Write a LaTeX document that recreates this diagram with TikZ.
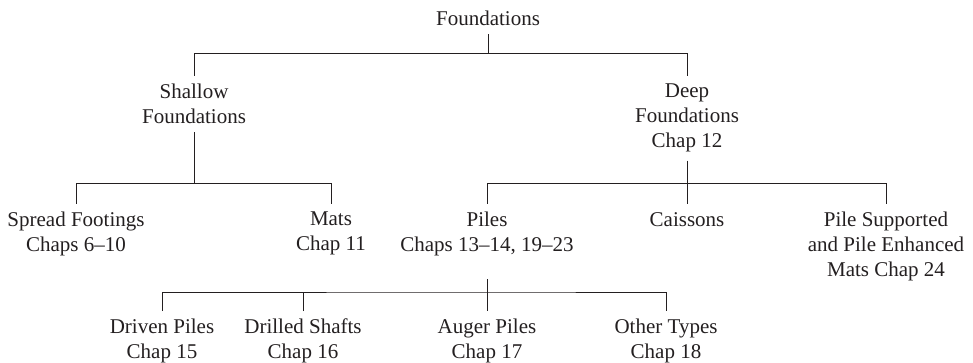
\documentclass[tikz,border=0pt]{standalone}
\usepackage{fontspec}
\setmainfont{Liberation Serif}
\usepackage{xcolor}
\usetikzlibrary{positioning,calc}
\definecolor{treeink}{HTML}{231F20}
\tikzset{
  catnode/.style={anchor=north, align=center, inner xsep=2pt, inner ysep=8pt, text=treeink, font=\fontsize{21}{25}\selectfont},
  link/.style={draw=treeink, line width=0.9pt}
}
\begin{document}
\begin{tikzpicture}[x=1pt, y=-1pt]
  \useasboundingbox (0,0) rectangle (973,363);
  % level 0 and 1
  \node[catnode] (root) at (488,3) {Foundations};
  \node[catnode] (shallow) at (194,76) {Shallow\\Foundations};
  \node[catnode] (deep) at (687,76) {Deep\\Foundations\\Chap 12};
  % level 2
  \node[catnode] (spread) at (76,204) {Spread Footings\\Chaps 6--10};
  \node[catnode] (mats) at (331,204) {Mats\\Chap 11};
  \node[catnode] (piles) at (487,204) {Piles\\Chaps 13--14, 19--23};
  \node[catnode] (caissons) at (687,204) {Caissons};
  \node[catnode] (pilemat) at (886,204) {Pile Supported\\and Pile Enhanced\\Mats Chap 24};
  % level 3
  \node[catnode] (driven) at (162,311) {Driven Piles\\Chap 15};
  \node[catnode] (drilled) at (303,311) {Drilled Shafts\\Chap 16};
  \node[catnode] (auger) at (487,311) {Auger Piles\\Chap 17};
  \node[catnode] (other) at (666,311) {Other Types\\Chap 18};
  % junctions
  \path (root.south) ++(0,19) coordinate (j1);
  \path (shallow.south) ++(0,51) coordinate (j2);
  \path (deep.north |- j2) coordinate (j3);
  \path (auger.north) ++(0,-19) coordinate (j4);
  % connectors
  \draw[link] (root.south) -- (j1);
  \draw[link] (shallow.north) |- (j1) -| (deep.north);
  \draw[link] (shallow.south) -- (j2);
  \draw[link] (spread.north) |- (j2) -| (mats.north);
  \draw[link] (deep.south) -- (caissons.north);
  \draw[link] (piles.north) |- (j3) -| (pilemat.north);
  \draw[link] ([yshift=-15pt]piles.south) -- (auger.north);
  \draw[link] (driven.north) |- (j4) -| (other.north);
  \draw[link] (drilled.north) -- (drilled.north |- j4);
\end{tikzpicture}
\end{document}
